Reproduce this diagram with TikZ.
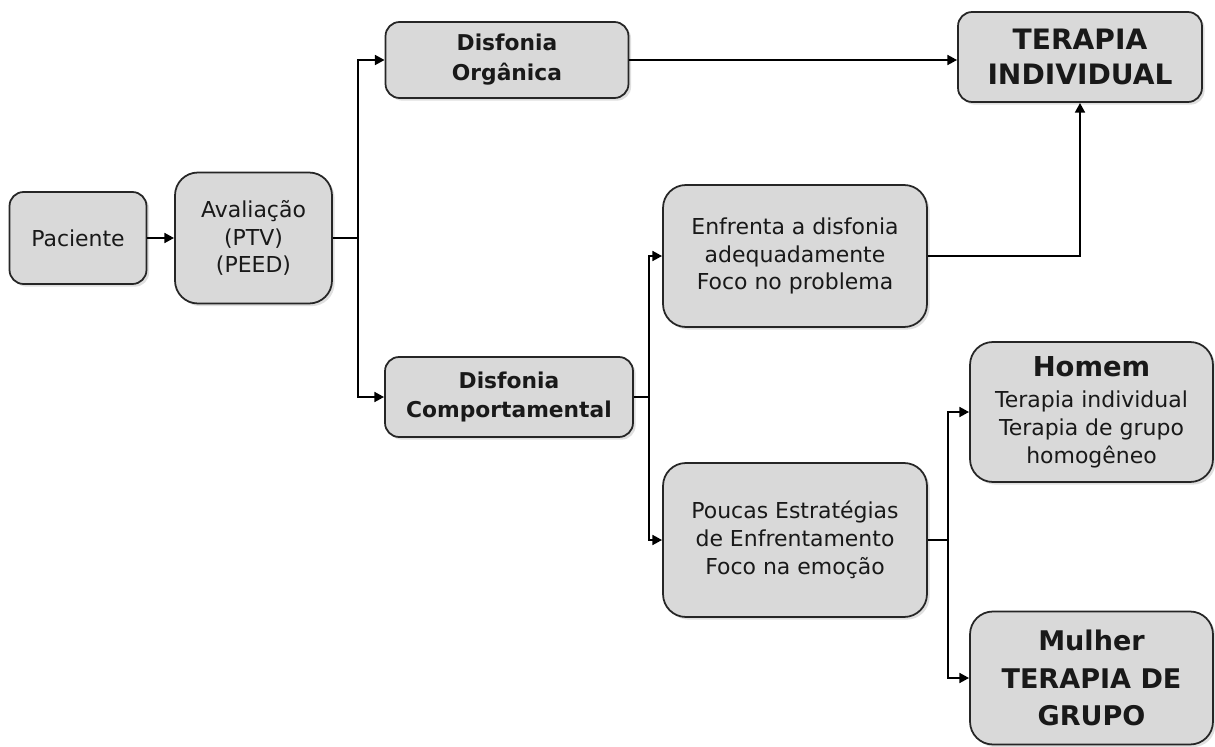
\documentclass[tikz,border=0pt]{standalone}
\usepackage{fontspec}
\setmainfont{DejaVu Sans}
\usetikzlibrary{shadows, arrows.meta}

\definecolor{boxgray}{HTML}{D9D9D9}

\tikzset{
    box/.style={draw=black!85, line width=1pt, fill=boxgray, rounded corners=8pt,
        align=center, inner sep=2pt, text=black!90,
        font=\fontsize{12.5}{15.8}\selectfont,
        drop shadow={shadow xshift=1.5pt, shadow yshift=-1.5pt, opacity=0.25}},
    bigbox/.style={box, rounded corners=13pt},
    midbold/.style={font=\bfseries\fontsize{12.4}{17}\selectfont},
    bigbold/.style={font=\bfseries\fontsize{16}{19.5}\selectfont},
    line/.style={line width=1.4pt, draw=black},
    arr/.style={line, -{Triangle[length=5.5pt, width=5.5pt]}},
}

\begin{document}
\begin{tikzpicture}[x=0.02cm, y=-0.02cm]
    \useasboundingbox (0,0) rectangle (1215,747);

    % first column
    \node[box, minimum width=2.74cm, minimum height=1.84cm] (pac) at (78,238) {Paciente};
    \node[bigbox, minimum width=3.14cm, minimum height=2.62cm] (aval) at (253.5,238) {Avaliação\\(PTV)\\(PEED)};

    % type of dysphonia
    \node[box, midbold, minimum width=4.86cm, minimum height=1.52cm] (org) at (507,60) {Disfonia\\Orgânica};
    \node[box, midbold, minimum width=4.96cm, minimum height=1.6cm] (comp) at (509,397) {Disfonia\\Comportamental};

    % coping
    \node[bigbox, minimum width=5.28cm, minimum height=2.84cm] (enf) at (795,256) {Enfrenta a disfonia\\adequadamente\\Foco no problema};
    \node[bigbox, minimum width=5.28cm, minimum height=3.08cm] (pouc) at (795,540) {Poucas Estratégias\\de Enfrentamento\\Foco na emoção};

    % therapy
    \node[box, bigbold, minimum width=4.88cm, minimum height=1.8cm] (ti) at (1080,57) {TERAPIA\\INDIVIDUAL};
    \node[bigbox, minimum width=4.86cm, minimum height=2.8cm] (hom) at (1091.5,412) {{\bfseries\fontsize{15.6}{19}\selectfont Homem}\\[2pt]Terapia individual\\Terapia de grupo\\homogêneo};
    \node[bigbox, font=\bfseries\fontsize{15.4}{21.5}\selectfont, minimum width=4.86cm, minimum height=2.66cm] (mul) at (1091.5,678) {Mulher\\TERAPIA DE\\GRUPO};

    % branch points
    \coordinate (s1) at (358,238);
    \coordinate (s2) at (649,397);
    \coordinate (s3) at (948,540);

    \draw[arr] (pac) -- (aval);
    \draw[line] (aval.east) -- (s1);
    \draw[arr] (s1) |- (org.west);
    \draw[arr] (s1) |- (comp.west);
    \draw[arr] (org.east) -- (org.east -| ti.west);

    \draw[line] (comp.east) -- (s2);
    \draw[arr] (s2) |- (enf.west);
    \draw[arr] (s2) |- (pouc.west);
    \draw[arr] (enf.east) -| (ti.south);

    \draw[line] (pouc.east) -- (s3);
    \draw[arr] (s3) |- (hom.west);
    \draw[arr] (s3) |- (mul.west);
\end{tikzpicture}
\end{document}
